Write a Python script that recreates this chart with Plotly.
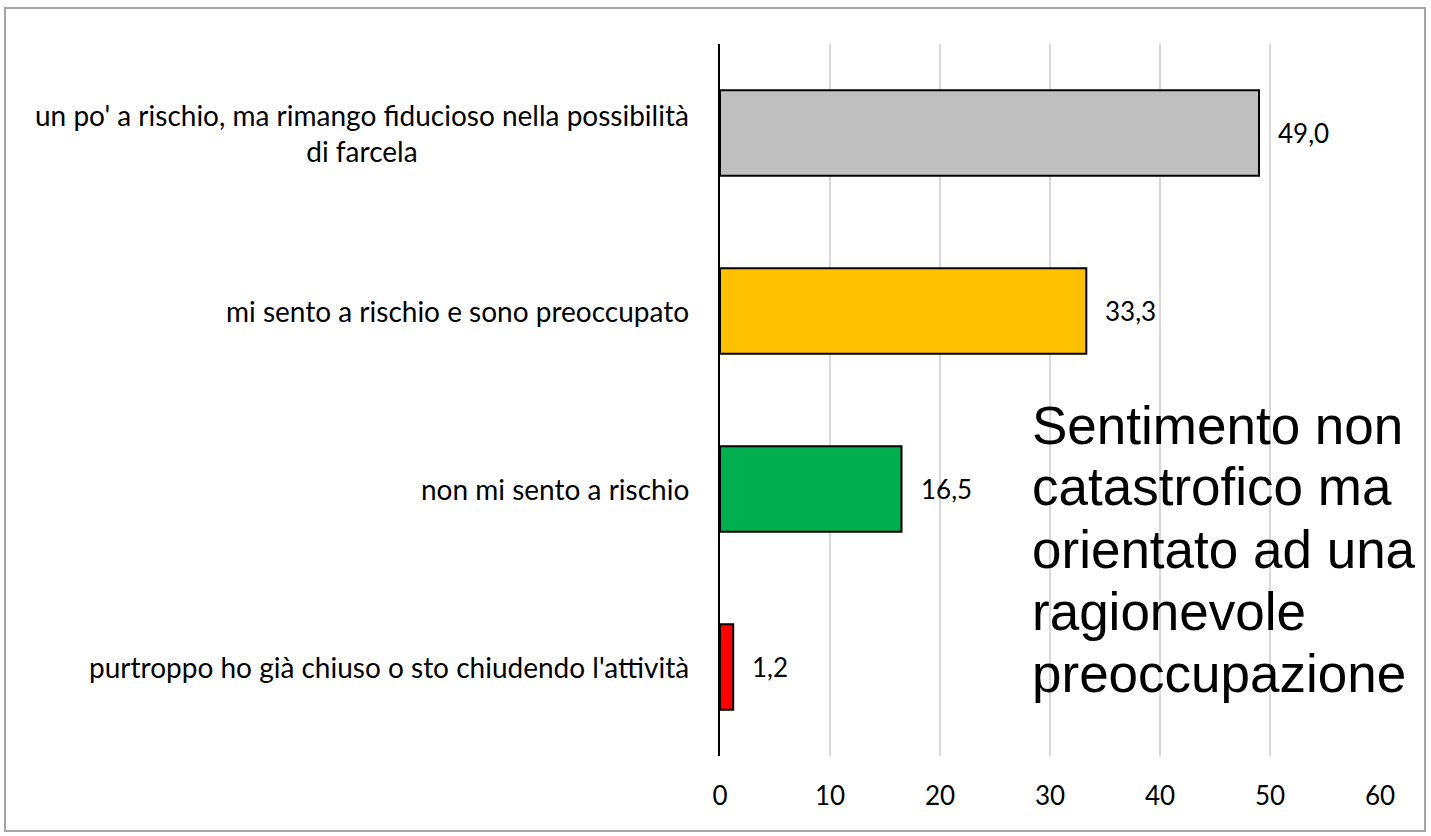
import plotly.graph_objects as go

# dati
categorie = [
    "un po' a rischio, ma rimango fiducioso nella possibilità<br>di farcela",
    "mi sento a rischio e sono preoccupato",
    "non mi sento a rischio",
    "purtroppo ho già chiuso o sto chiudendo l'attività",
]
valori = [49.0, 33.3, 16.5, 1.2]
colori = ["#bfbfbf", "#ffc000", "#00b050", "#ff0000"]
tick_x = [0, 10, 20, 30, 40, 50, 60]
nota = [
    "Sentimento non",
    "catastrofico ma",
    "orientato ad una",
    "ragionevole",
    "preoccupazione",
]

W, H = 1431, 836
L, R, T, B = 720, 51, 44, 80
ph = H - T - B
pw = W - L - R

def py(y):
    # pixel verticale -> coordinata paper
    return (H - B - y) / ph

def px_(x):
    return (x - L) / pw

fig = go.Figure()
fig.add_trace(go.Bar(
    x=valori,
    y=categorie,
    orientation="h",
    width=0.48,
    marker=dict(color=colori, line=dict(color="black", width=2)),
    hoverinfo="x+y",
))

annotations = []
# etichette categorie (centrate su più righe come in Excel)
for c in categorie:
    annotations.append(dict(
        x=px_(691), xref="paper", xanchor="right",
        y=c, yref="y", yanchor="middle",
        text=c, showarrow=False, align="center",
        font=dict(family="Lato", size=28, color="black"),
    ))
# valori
for c, v in zip(categorie, valori):
    annotations.append(dict(
        x=v, xref="x", xanchor="left", xshift=17,
        y=c, yref="y", yanchor="middle",
        text=f"{v:.1f}".replace(".", ","), showarrow=False,
        font=dict(family="Lato", size=26, color="black"),
    ))
# nota
for i, riga in enumerate(nota):
    annotations.append(dict(
        x=px_(1030), xref="paper", xanchor="left",
        y=py(425 + 62 * i), yref="paper", yanchor="middle",
        text=riga, showarrow=False,
        font=dict(family="Liberation Sans, Arial", size=53, color="black"),
    ))

fig.update_layout(
    width=W, height=H,
    margin=dict(l=L, r=R, t=T, b=B, autoexpand=False),
    paper_bgcolor="white", plot_bgcolor="white",
    showlegend=False,
    annotations=annotations,
    shapes=[dict(
        type="rect", xref="paper", yref="paper",
        x0=px_(5), x1=px_(1425), y0=py(831), y1=py(8),
        line=dict(color="#a6a6a6", width=2), fillcolor="rgba(0,0,0,0)",
    )],
    xaxis=dict(
        range=[0, 60], tickvals=tick_x,
        showgrid=True, gridcolor="#d9d9d9", gridwidth=2,
        zeroline=False, showline=False,
        ticks="", ticklabelstandoff=22,
        tickfont=dict(family="Lato", size=26, color="black"),
    ),
    yaxis=dict(
        autorange="reversed",
        showticklabels=False, ticks="",
        showgrid=False, zeroline=False,
        showline=True, linecolor="black", linewidth=2,
    ),
)

fig.write_html(
    "out.html",
    config={"displayModeBar": False},
    post_script="document.body.style.margin='0';document.body.style.overflow='hidden';",
)
